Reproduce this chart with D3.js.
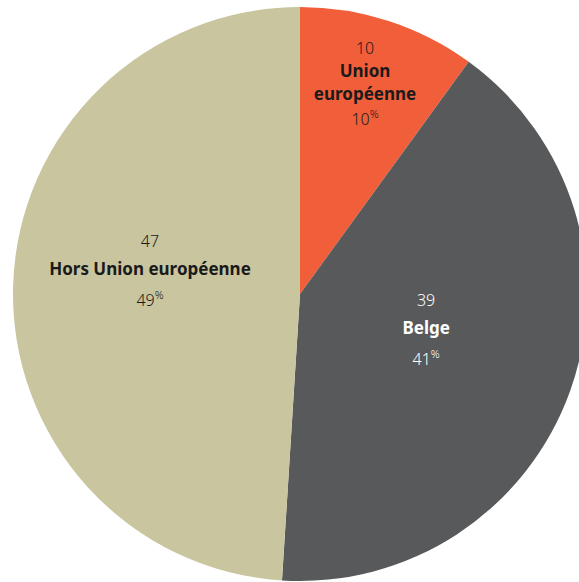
<!DOCTYPE html>
<html>
<head>
<meta charset="utf-8">
<script src="https://cdn.jsdelivr.net/npm/d3@7"></script>
<style>
  html, body { margin: 0; padding: 0; background: #fff; }
  svg { display: block; }
  .pie-value { font-family: "Noto Sans", sans-serif; font-size: 16px; font-weight: 300; }
  .pie-label { font-family: "Noto Sans", sans-serif; font-size: 17px; font-weight: bold; }
</style>
</head>
<body>
<div id="chart"></div>
<script>
// Data
const categories = ["Union européenne", "Belge", "Hors Union européenne"];
const values = [10, 39, 47];
const percents = [10, 41, 49];

const colors = ["#f15f3a", "#58595b", "#c9c59f"];
const textColors = ["#1a1a1a", "#ffffff", "#1a1a1a"];
// label lines (bold part), split where the chart wraps it
const labelLines = [["Union", "européenne"], ["Belge"], ["Hors Union européenne"]];
// label anchor in polar coords: angle (deg, clockwise from top) and radius fraction
const labelPolar = [[17, 0.775], [105, 0.455], [279.5, 0.53]];
// vertical gaps between successive line centres of each label block
const lineGaps = [[23.5, 23.5, 23.5], [29, 30], [29, 30]];

const width = 579, height = 582;
const cx = 300, cy = 294, radius = 287;

let svg = d3.select("#chart").append("svg")
  .attr("width", width)
  .attr("height", height);

let g = svg.append("g")
  .attr("transform", "translate(" + cx + "," + cy + ")");

// slices follow the shares shown
let pie = d3.pie().sort(null).value(d => d);
let arcs = pie(percents);

let arc = d3.arc().innerRadius(0).outerRadius(radius);

g.selectAll("path.slice")
  .data(arcs)
  .enter().append("path")
  .attr("class", "slice")
  .attr("fill", (d, i) => colors[i])
  .attr("d", arc);

// Labels
arcs.forEach((d, i) => {
  let a = labelPolar[i][0] * Math.PI / 180;
  let r = labelPolar[i][1] * radius;
  let x = Math.sin(a) * r;
  let y = -Math.cos(a) * r;

  let gaps = lineGaps[i];
  let total = d3.sum(gaps);
  let centres = [y - total / 2];
  gaps.forEach(gp => centres.push(centres[centres.length - 1] + gp));

  let t = g.append("g").attr("fill", textColors[i]);

  // value
  t.append("text")
    .attr("class", "pie-value")
    .attr("text-anchor", "middle")
    .attr("x", x)
    .attr("y", centres[0] + 8)
    .text(values[i]);

  // category name
  labelLines[i].forEach((l, j) => {
    t.append("text")
      .attr("class", "pie-label")
      .attr("text-anchor", "middle")
      .attr("x", x)
      .attr("y", centres[1 + j] + 7)
      .text(l);
  });

  // share
  let pct = t.append("text")
    .attr("class", "pie-value")
    .attr("text-anchor", "middle")
    .attr("x", x)
    .attr("y", centres[centres.length - 1] + 8);
  pct.append("tspan").text(percents[i]);
  pct.append("tspan")
    .attr("font-size", "11px")
    .attr("dy", -7)
    .text("%");
});
</script>
</body>
</html>
